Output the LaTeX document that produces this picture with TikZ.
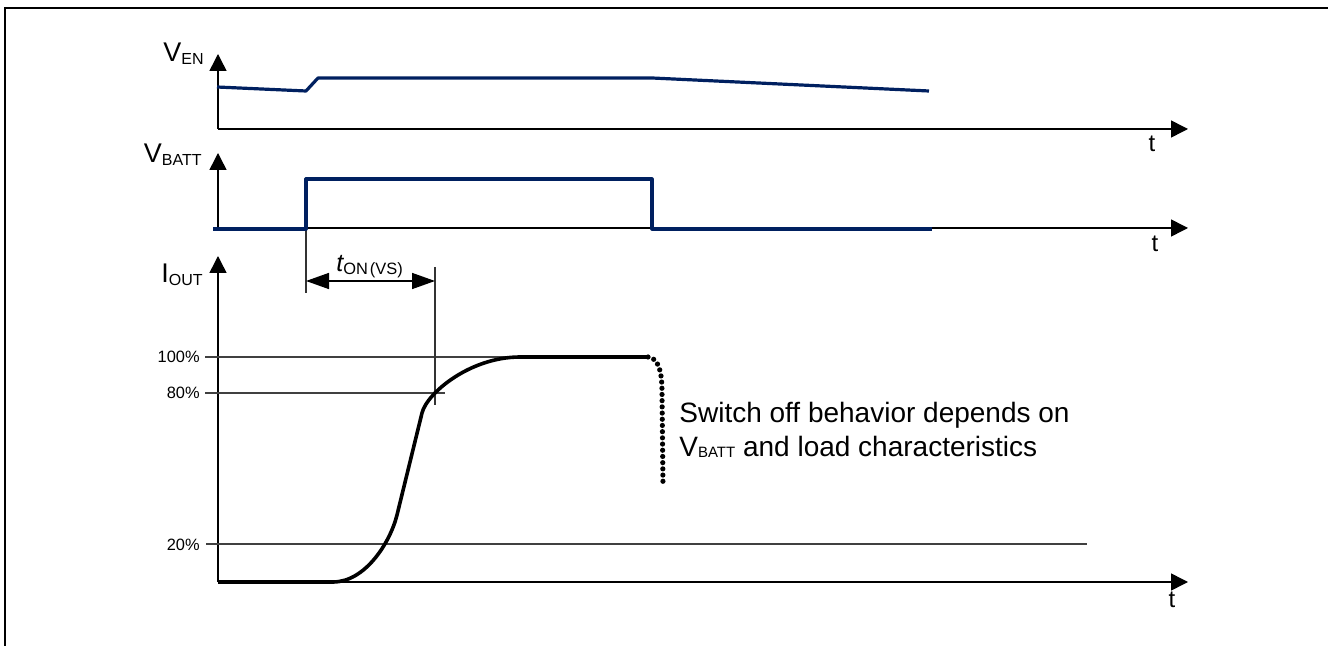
\documentclass[tikz,border=0pt]{standalone}
\usepackage{fontspec}
\setmainfont{Liberation Sans}
\usetikzlibrary{arrows.meta}
\definecolor{navy}{HTML}{002060}
\newcommand{\lowsub}[2]{{\fontsize{#1}{#1}\selectfont\raisebox{-1.5pt}{#2}}}

\begin{document}
\begin{tikzpicture}[
    x=0.5pt, y=-0.5pt,
    frame/.style={line width=1pt},
    axis/.style={line width=0.75pt, -{Triangle[length=8.5pt,width=8.5pt]}},
    level/.style={line width=0.75pt, draw=black!75},
    marker/.style={line width=0.7pt, draw=black!80},
    dim/.style={line width=0.75pt,
        {Triangle[length=11.5pt,width=8pt]}-{Triangle[length=11.5pt,width=8pt]}},
    signal/.style={line width=1.6pt, draw=navy, line join=round},
    current/.style={line width=1.8pt, line join=round},
    tail/.style={line width=2.6pt, line cap=round, dash pattern=on 0pt off 3.1pt},
    axlabel/.style={inner sep=0pt, font=\fontsize{13.5}{15}\selectfont},
    tlabel/.style={inner sep=0pt, anchor=base, font=\fontsize{12}{14}\selectfont},
    pct/.style={inner sep=0pt, anchor=base east, font=\fontsize{8.2}{10}\selectfont},
    note/.style={inner sep=0pt, anchor=base west, font=\fontsize{14}{17}\selectfont}
]
    \useasboundingbox (0,0) rectangle (1328,646);
    \draw[frame] (5,646) -- (5,8) -- (1328,8);

    % axes
    \coordinate (enO) at (218,129);
    \coordinate (enY) at (218,54);
    \coordinate (enX) at (1188,129);
    \coordinate (baO) at (218,228);
    \coordinate (baY) at (218,153);
    \coordinate (baX) at (1188,228);
    \coordinate (ioO) at (218,582);
    \coordinate (ioY) at (218,256);
    \coordinate (ioX) at (1188,582);
    \draw[axis] (enO) -- (enY);
    \draw[axis] (enO) -- (enX);
    \draw[axis] (baO) -- (baY);
    \draw[axis] (baO) -- (baX);
    \draw[axis] (ioO) -- (ioY);
    \draw[axis] (ioO) -- (ioX);

    \node[axlabel, anchor=base east] (ven) at (204,62) {V\lowsub{8}{EN}};
    \node[axlabel, anchor=base east] (vbatt) at (202,163) {V\lowsub{8}{BATT}};
    \node[axlabel, anchor=base east] (iout) at (203,283) {I\lowsub{8}{OUT}};
    \node[tlabel] (t1) at (1152,152) {t};
    \node[tlabel] (t2) at (1155,252) {t};
    \node[tlabel] (t3) at (1172,607) {t};

    % levels
    \coordinate (l100a) at (205,357);
    \coordinate (l100b) at (648,357);
    \coordinate (l80a) at (205,393);
    \coordinate (l80b) at (445,393);
    \coordinate (l20a) at (206,544);
    \coordinate (l20b) at (1087,544);
    \draw[level] (l100a) -- (l100b);
    \draw[level] (l80a) -- (l80b);
    \draw[level] (l20a) -- (l20b);
    \node[pct] (p100) at (200,363) {100\%};
    \node[pct] (p80) at (200,399) {80\%};
    \node[pct] (p20) at (200,551) {20\%};

    % t_ON(VS)
    \coordinate (onA) at (306,229);
    \coordinate (onB) at (306,293);
    \coordinate (onC) at (435,267);
    \coordinate (onD) at (435,405);
    \draw[marker] (onA) -- (onB);
    \draw[marker] (onC) -- (onD);
    \draw[dim] (306,281) -- (435,281);
    \node[inner sep=0pt, anchor=base west] (ton) at (336,272)
        {\fontsize{12.5}{14}\selectfont\itshape t\upshape\lowsub{8.2}{ON\kern1pt(VS)}};

    % signals
    \draw[signal] (217,87) -- (306,91) -- (318,78) -- (652,78) -- (929,91);
    \draw[signal] (213,229) -- (306,229) -- (306,179) -- (652,179)
        -- (652,229) -- (932,229);
    \draw[current] (218,582) -- (333,582)
        .. controls (365,582) and (390,543) .. (397,515)
        -- (422,413)
        .. controls (427,393) and (470,357) .. (520,357)
        -- (648,357);
    \draw[tail] (648,357) .. controls (658,358) and (662,370) .. (662,392)
        -- (663,486);

    \node[note] (note1) at (679,423) {Switch off behavior depends on};
    \node[note] (note2) at (679,457)
        {V{\fontsize{7.5}{9}\selectfont\raisebox{-0.5pt}{BATT}} and load characteristics};
\end{tikzpicture}
\end{document}
